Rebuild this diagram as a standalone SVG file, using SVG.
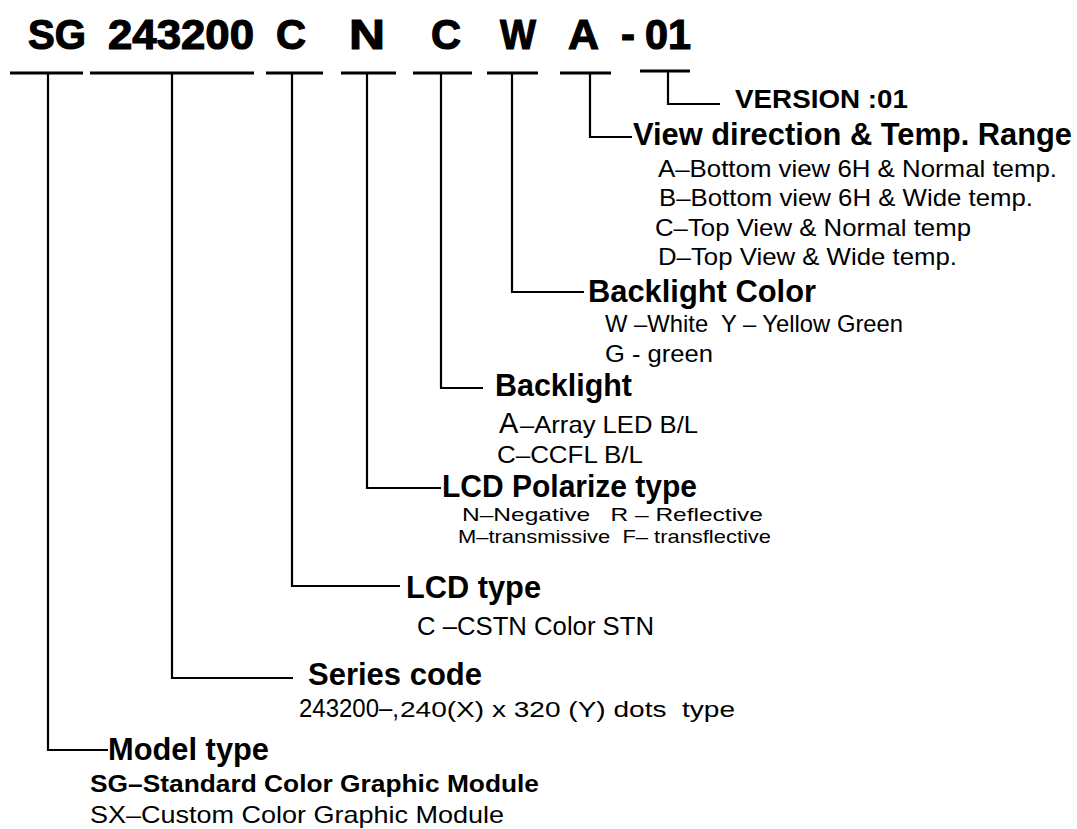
<svg xmlns="http://www.w3.org/2000/svg" width="1077" height="829" viewBox="0 0 1077 829">
<style>
text{font-family:"Liberation Sans",Arial,sans-serif;fill:#000}
.code{font-size:43px;font-weight:bold;stroke:#000;stroke-width:1.2}
.head{font-size:31px;font-weight:bold}
.item{font-size:24px}
.ul{stroke:#000;stroke-width:3;fill:none}
.con{stroke:#000;stroke-width:2.2;fill:none}
</style>
<rect width="1077" height="829" fill="#fff"/>
<g id="code">
<text class="code" x="28" y="49" textLength="58" lengthAdjust="spacingAndGlyphs">SG</text>
<text class="code" x="108" y="49" textLength="146" lengthAdjust="spacingAndGlyphs">243200</text>
<text class="code" x="276" y="49" textLength="30" lengthAdjust="spacingAndGlyphs">C</text>
<text class="code" x="349" y="49" textLength="36" lengthAdjust="spacingAndGlyphs">N</text>
<text class="code" x="431" y="49" textLength="30" lengthAdjust="spacingAndGlyphs">C</text>
<text class="code" x="500" y="49" textLength="36" lengthAdjust="spacingAndGlyphs">W</text>
<text class="code" x="568" y="49" textLength="31" lengthAdjust="spacingAndGlyphs">A</text>
<text class="code" x="621" y="49" textLength="14" lengthAdjust="spacingAndGlyphs">-</text>
<text class="code" x="645" y="49" textLength="46" lengthAdjust="spacingAndGlyphs">01</text>
</g>
<g id="connectors">
<line class="ul" x1="10" y1="73" x2="83" y2="73"/>
<line class="ul" x1="90" y1="73" x2="254" y2="73"/>
<line class="ul" x1="266" y1="73" x2="323" y2="73"/>
<line class="ul" x1="341" y1="73" x2="396" y2="73"/>
<line class="ul" x1="413" y1="73" x2="472" y2="73"/>
<line class="ul" x1="487" y1="73" x2="538" y2="73"/>
<line class="ul" x1="560" y1="73" x2="611" y2="73"/>
<line class="ul" x1="640" y1="71" x2="690" y2="71"/>
<path class="con" d="M48 73V750H108"/>
<path class="con" d="M172 73V678H293"/>
<path class="con" d="M292 73V586H400"/>
<path class="con" d="M367 73V488H441"/>
<path class="con" d="M441 73V388H483"/>
<path class="con" d="M512 73V292H584"/>
<path class="con" d="M590 73V137H632"/>
<path class="con" d="M668 71V104H720"/>
</g>
<g id="version">
<text x="735" y="108" font-size="25" font-weight="bold" textLength="173" lengthAdjust="spacingAndGlyphs">VERSION :01</text>
</g>
<g id="view-direction">
<text class="head" x="633" y="145" textLength="439" lengthAdjust="spacingAndGlyphs">View direction &amp; Temp. Range</text>
<text class="item" x="658" y="177" textLength="399" lengthAdjust="spacingAndGlyphs">A–Bottom view 6H &amp; Normal temp.</text>
<text class="item" x="659" y="206" textLength="374" lengthAdjust="spacingAndGlyphs">B–Bottom view 6H &amp; Wide temp.</text>
<text class="item" x="655" y="236" textLength="316" lengthAdjust="spacingAndGlyphs">C–Top View &amp; Normal temp</text>
<text class="item" x="658" y="265" textLength="299" lengthAdjust="spacingAndGlyphs">D–Top View &amp; Wide temp.</text>
</g>
<g id="backlight-color">
<text class="head" x="588" y="302" textLength="228" lengthAdjust="spacingAndGlyphs">Backlight Color</text>
<text class="item" x="605" y="332" textLength="298" lengthAdjust="spacingAndGlyphs" xml:space="preserve">W –White  Y – Yellow Green</text>
<text class="item" x="605" y="362" textLength="108" lengthAdjust="spacingAndGlyphs">G - green</text>
</g>
<g id="backlight">
<text class="head" x="495" y="396" textLength="137" lengthAdjust="spacingAndGlyphs">Backlight</text>
<text x="499" y="433" font-size="29">A</text>
<text class="item" x="520" y="433" textLength="178" lengthAdjust="spacingAndGlyphs">–Array LED B/L</text>
<text class="item" x="497" y="463" textLength="146" lengthAdjust="spacingAndGlyphs">C–CCFL B/L</text>
</g>
<g id="lcd-polarize">
<text class="head" x="442" y="497" textLength="255" lengthAdjust="spacingAndGlyphs">LCD Polarize type</text>
<text x="462" y="521" font-size="19" textLength="301" lengthAdjust="spacingAndGlyphs" xml:space="preserve">N–Negative   R – Reflective</text>
<text x="458" y="543" font-size="19" textLength="313" lengthAdjust="spacingAndGlyphs" xml:space="preserve">M–transmissive  F– transflective</text>
</g>
<g id="lcd-type">
<text class="head" x="406" y="598" textLength="135" lengthAdjust="spacingAndGlyphs">LCD type</text>
<text x="417" y="635" font-size="25" textLength="237" lengthAdjust="spacingAndGlyphs">C –CSTN Color STN</text>
</g>
<g id="series-code">
<text class="head" x="308" y="685" textLength="174" lengthAdjust="spacingAndGlyphs">Series code</text>
<text x="299" y="717" font-size="25" textLength="100" lengthAdjust="spacingAndGlyphs">243200–,</text>
<text x="400" y="717" font-size="22" textLength="335" lengthAdjust="spacingAndGlyphs" xml:space="preserve">240(X) x 320 (Y) dots  type</text>
</g>
<g id="model-type">
<text class="head" x="108" y="760" textLength="161" lengthAdjust="spacingAndGlyphs">Model type</text>
<text x="90" y="792" font-size="24" font-weight="bold" textLength="449" lengthAdjust="spacingAndGlyphs">SG–Standard Color Graphic Module</text>
<text class="item" x="90" y="823" textLength="414" lengthAdjust="spacingAndGlyphs">SX–Custom Color Graphic Module</text>
</g>
</svg>
